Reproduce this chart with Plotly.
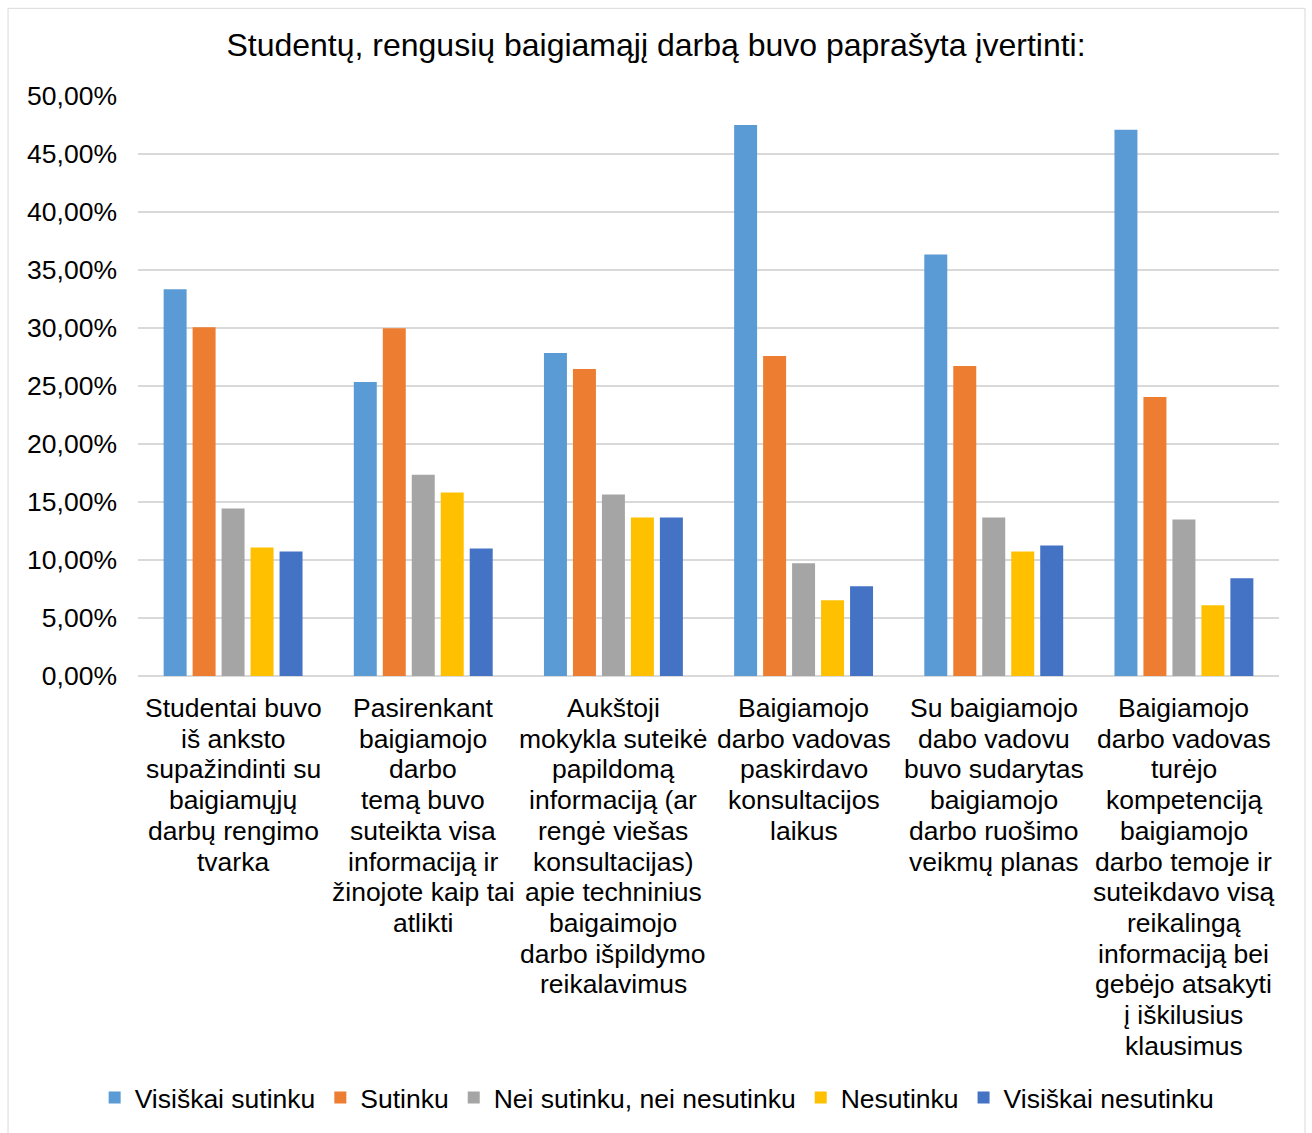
import plotly.graph_objects as go

# categories (split into the lines shown under each group)
categories = [
    ["Studentai buvo", "iš anksto", "supažindinti su", "baigiamųjų", "darbų rengimo", "tvarka"],
    ["Pasirenkant", "baigiamojo", "darbo", "temą buvo", "suteikta visa", "informaciją ir",
     "žinojote kaip tai", "atlikti"],
    ["Aukštoji", "mokykla suteikė", "papildomą", "informaciją (ar", "rengė viešas",
     "konsultacijas)", "apie techninius", "baigaimojo", "darbo išpildymo", "reikalavimus"],
    ["Baigiamojo", "darbo vadovas", "paskirdavo", "konsultacijos", "laikus"],
    ["Su baigiamojo", "dabo vadovu", "buvo sudarytas", "baigiamojo", "darbo ruošimo",
     "veikmų planas"],
    ["Baigiamojo", "darbo vadovas", "turėjo", "kompetenciją", "baigiamojo", "darbo temoje ir",
     "suteikdavo visą", "reikalingą", "informaciją bei", "gebėjo atsakyti", "į iškilusius",
     "klausimus"],
]
x_keys = ["K1", "K2", "K3", "K4", "K5", "K6"]

series_names = ["Visiškai sutinku", "Sutinku", "Nei sutinku, nei nesutinku", "Nesutinku",
                "Visiškai nesutinku"]
visiskai_sutinku = [0.3333, 0.2535, 0.2784, 0.4750, 0.3634, 0.4708]
sutinku = [0.3007, 0.2998, 0.2646, 0.2758, 0.2672, 0.2405]
nei_nei = [0.1443, 0.1735, 0.1564, 0.0971, 0.1366, 0.1349]
nesutinku = [0.1108, 0.1581, 0.1366, 0.0653, 0.1074, 0.0610]
visiskai_nesutinku = [0.1074, 0.1100, 0.1366, 0.0773, 0.1125, 0.0842]

colors = ["#5B9BD5", "#ED7D31", "#A5A5A5", "#FFC000", "#4472C4"]
FONT = "Liberation Sans, Arial, sans-serif"

fig = go.Figure()
for name, vals, color in zip(series_names,
                             [visiskai_sutinku, sutinku, nei_nei, nesutinku, visiskai_nesutinku],
                             colors):
    fig.add_trace(go.Bar(x=x_keys, y=vals, name=name, marker=dict(color=color, line=dict(width=0))))

# category labels, one annotation per line to get Excel-like line spacing
for key, lines in zip(x_keys, categories):
    for i, line in enumerate(lines):
        fig.add_annotation(x=key, xref="x", y=0, yref="paper", text=line, showarrow=False,
                           yanchor="middle", yshift=-32 - 30.7 * i,
                           font=dict(family=FONT, size=26.5, color="#000000"))

# outer chart border
fig.add_shape(type="rect", xref="paper", yref="paper", x0=-0.1139, x1=1.0228, y0=-0.80, y1=1.1512,
              line=dict(color="#D9D9D9", width=1), layer="below")

fig.update_layout(
    width=1312, height=1133,
    margin=dict(l=138, r=33, t=96, b=455),
    paper_bgcolor="white", plot_bgcolor="white",
    separators=", ",
    barmode="group", bargap=0.238, bargroupgap=0.207,
    title=dict(text="Studentų, rengusių baigiamąjį darbą buvo paprašyta įvertinti:",
               x=0.5, xanchor="center", y=1 - 45 / 1133, yanchor="middle",
               font=dict(family=FONT, size=32, color="#000000")),
    font=dict(family=FONT, size=26.5, color="#000000"),
    legend=dict(orientation="h", x=0.455, xanchor="center", y=-0.727, yanchor="middle",
                font=dict(family=FONT, size=26.5, color="#000000"), itemwidth=30,
                traceorder="normal"),
    xaxis=dict(showticklabels=False, showgrid=False, showline=False, zeroline=False, ticks=""),
    yaxis=dict(range=[0, 0.5], dtick=0.05, tickformat=".2%", showgrid=True, gridcolor="#D9D9D9",
               gridwidth=2, zeroline=True, zerolinecolor="#D9D9D9", zerolinewidth=2,
               showline=False, ticks="", ticklabelstandoff=20,
               tickfont=dict(family=FONT, size=26.5, color="#000000")),
)

fig.write_html("out.html", config={"displayModeBar": False},
               post_script="document.body.style.margin='0';")
